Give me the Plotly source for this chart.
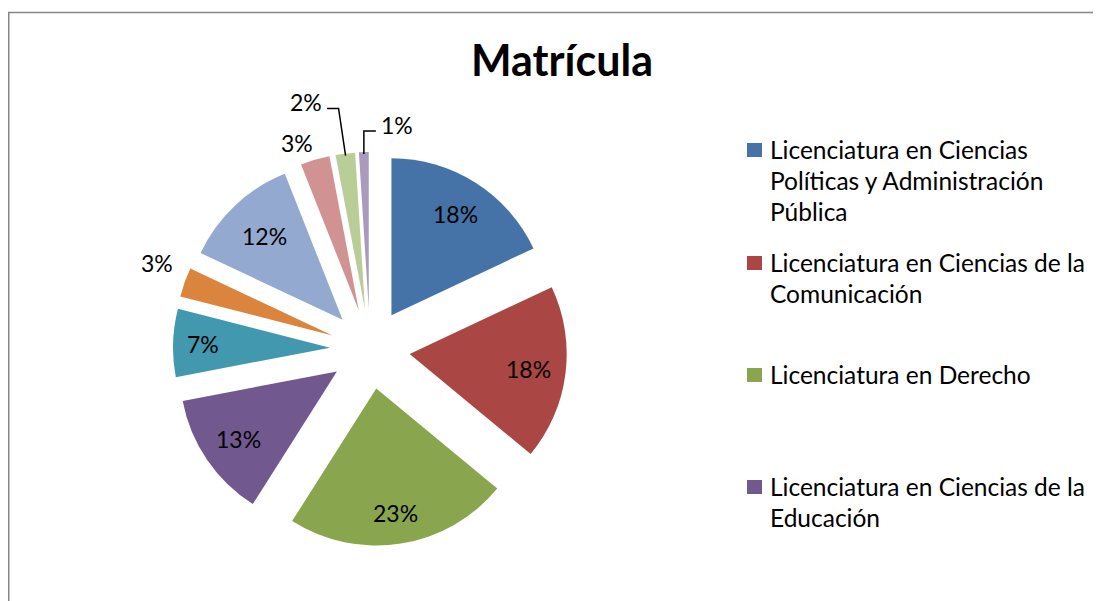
import math
import plotly.graph_objects as go

# ---------------- data ----------------
labels = [
    "Licenciatura en Ciencias Políticas y Administración Pública",
    "Licenciatura en Ciencias de la Comunicación",
    "Licenciatura en Derecho",
    "Licenciatura en Ciencias de la Educación",
    "Categoría 5",
    "Categoría 6",
    "Categoría 7",
    "Categoría 8",
    "Categoría 9",
    "Categoría 10",
]
values = [18, 18, 23, 13, 7, 3, 12, 3, 2, 1]
legend_lines = [
    ["Licenciatura en Ciencias", "Políticas y Administración", "Pública"],
    ["Licenciatura en Ciencias de la", "Comunicación"],
    ["Licenciatura en Derecho"],
    ["Licenciatura en Ciencias de la", "Educación"],
]
title_text = "Matrícula"

# ---------------- style ----------------
colors = ["#4572A7", "#AA4643", "#89A54E", "#71588F", "#4198AF",
          "#DB843D", "#93A9CF", "#D19392", "#B9CD96", "#A99BBD"]
OFF = 8                    # page body margin
W, H = 1101 - OFF, 601 - OFF
CX, CY = 370, 349          # pie centre (screen px)
R = 157                    # pie radius (px)
PULL = 40                  # explode distance (px)
FONT = "Lato"
# label placement: (radius factor from exploded tip, angle offset deg)
label_place = [(0.76, 0), (0.76, 0), (0.80, 0), (0.76, 0), (0.81, 0),
               (1.21, 2.6), (0.73, 0), (1.14, -4.0), (1.37, -8.7), (1.185, 10.5)]
leaders = {8: {"side": "right", "elbow_dx": -7}, 9: {"side": "left", "elbow_dx": 0}}


def px2paper(x, y):
    return (x - OFF) / W, 1 - (y - OFF) / H


pull = PULL / R
ext = R + PULL
dom_x = [(CX - OFF - ext) / W, (CX - OFF + ext) / W]
dom_y = [1 - (CY - OFF + ext) / H, 1 - (CY - OFF - ext) / H]

fig = go.Figure(go.Pie(
    labels=labels, values=values, sort=False, direction="clockwise", rotation=0,
    pull=[pull] * len(values), textinfo="none", hoverinfo="label+percent",
    marker=dict(colors=colors, line=dict(width=0)),
    domain=dict(x=dom_x, y=dom_y), showlegend=False,
))

total = sum(values)
annotations = []
shapes = []
cum = 0
for i, v in enumerate(values):
    a0 = cum / total * 360
    cum += v
    a1 = cum / total * 360
    mid = math.radians((a0 + a1) / 2)
    dx, dy = math.sin(mid), -math.cos(mid)
    tipx, tipy = CX + PULL * dx, CY + PULL * dy
    k, off = label_place[i]
    la = mid + math.radians(off)
    lx, ly = tipx + k * R * math.sin(la), tipy - k * R * math.cos(la)
    pct = round(v / total * 100)
    xp, yp = px2paper(lx, ly)
    annotations.append(dict(x=xp, y=yp, xref="paper", yref="paper", text=f"{pct}%",
                            showarrow=False, font=dict(family=FONT, size=23, color="#000"),
                            xanchor="center", yanchor="middle"))
    if i in leaders:
        ld = leaders[i]
        ex, ey = CX + (R + PULL - 2) * dx, CY + (R + PULL - 2) * dy
        line_y = ly + 6
        elx = ex + ld["elbow_dx"]
        half = 16
        endx = lx + half + 5 if ld["side"] == "right" else lx - half - 5
        pts = [(ex, ey), (elx, line_y), (endx, line_y)]
        path = "M " + " L ".join(f"{px2paper(x, y)[0]},{px2paper(x, y)[1]}" for x, y in pts)
        shapes.append(dict(type="path", path=path, xref="paper", yref="paper",
                           line=dict(color="#000", width=1.5)))

# manual legend (Excel shows only the first four entries)
legend_y0 = [150, 263, 375, 487]
LINE_H = 31
for j, lines in enumerate(legend_lines):
    y0 = legend_y0[j]
    x0p, y0p = px2paper(747, y0 - 7)
    x1p, y1p = px2paper(762, y0 + 7)
    shapes.append(dict(type="rect", xref="paper", yref="paper", x0=x0p, x1=x1p,
                       y0=y1p, y1=y0p, fillcolor=colors[j], line=dict(width=0)))
    for n, t in enumerate(lines):
        xp, yp = px2paper(768, y0 + n * LINE_H - 1)
        annotations.append(dict(x=xp, y=yp, xref="paper", yref="paper", text=t,
                                showarrow=False, xanchor="left", yanchor="middle",
                                font=dict(family=FONT, size=24.5, color="#000")))

# chart border
bx0, by0 = px2paper(8.75, 12.5)
bx1, by1 = px2paper(1130, 640)
shapes.append(dict(type="rect", xref="paper", yref="paper", x0=bx0, x1=bx1, y0=by1, y1=by0,
                   line=dict(color="#868686", width=1.5), fillcolor="rgba(0,0,0,0)", layer="below"))

tx, ty = px2paper(562, 61)
fig.update_layout(
    width=W, height=H, margin=dict(l=0, r=0, t=0, b=0),
    paper_bgcolor="white", plot_bgcolor="white",
    title=dict(text=f"<b>{title_text}</b>", x=tx, xanchor="center",
               y=ty, yanchor="middle", yref="container",
               font=dict(family=FONT, size=43, color="#000")),
    annotations=annotations, shapes=shapes,
)
fig.write_html("out.html")
